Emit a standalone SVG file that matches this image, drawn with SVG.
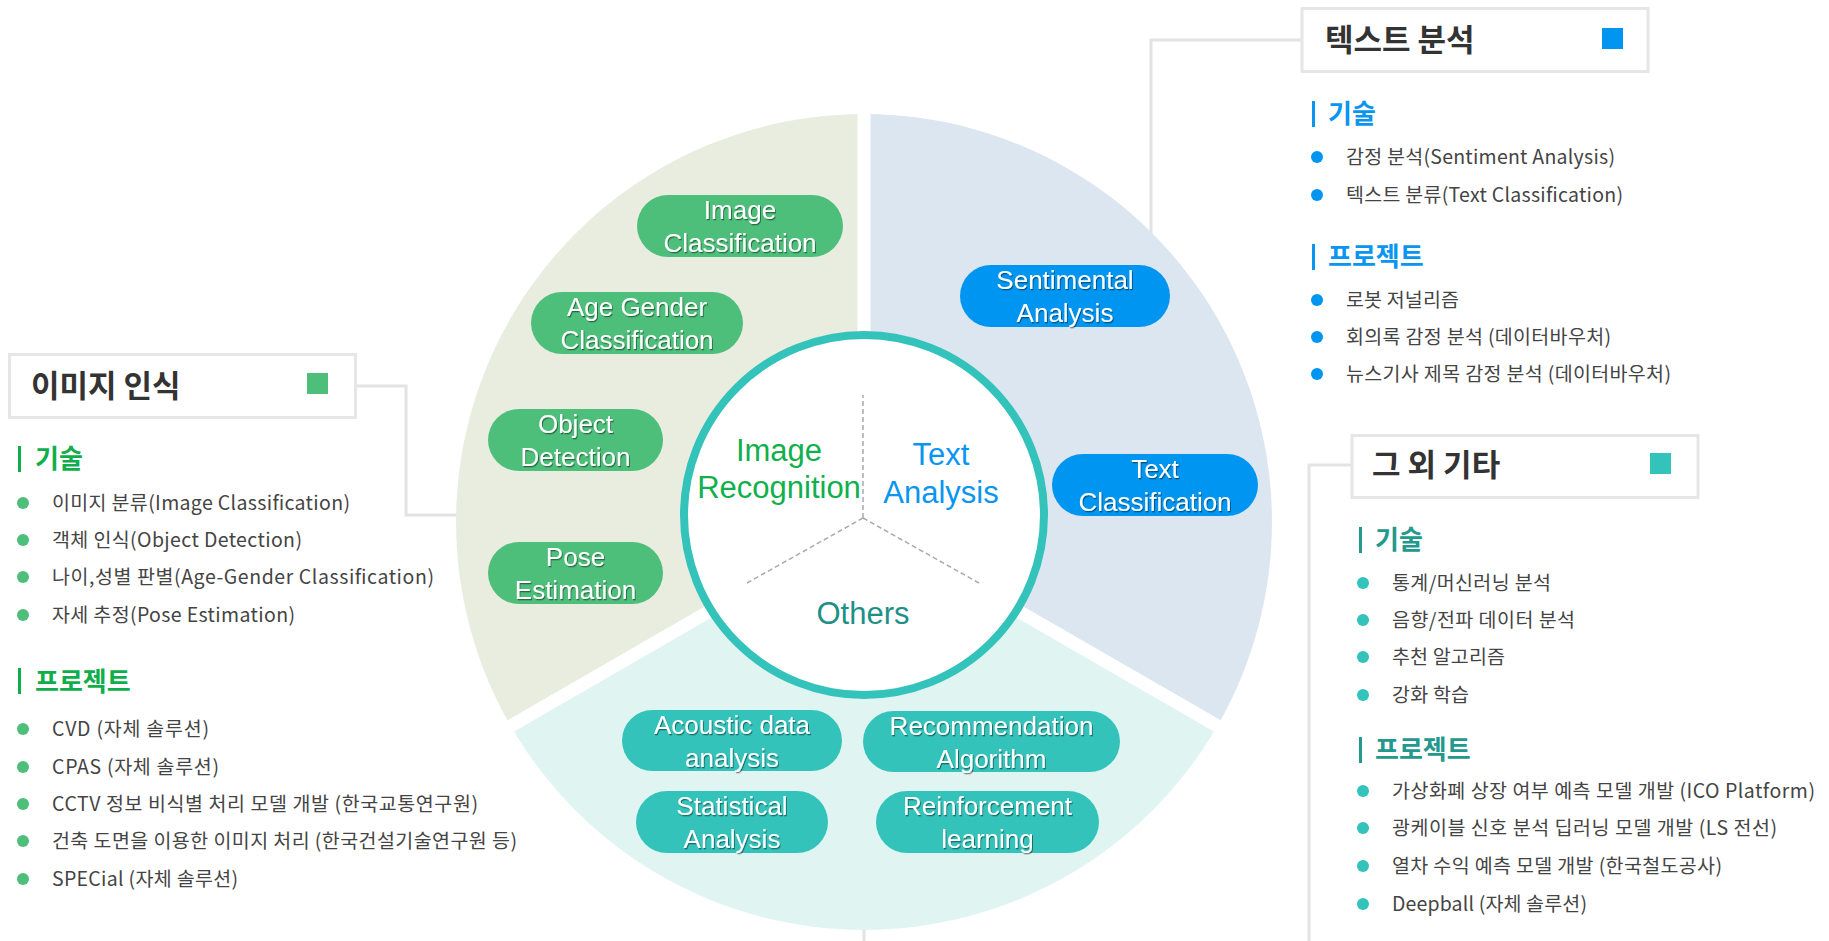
<svg xmlns="http://www.w3.org/2000/svg" width="1829" height="941" viewBox="0 0 1829 941">
<defs>
<filter id="ts" x="-10%" y="-30%" width="120%" height="160%"><feDropShadow dx="1" dy="1.3" stdDeviation="0.7" flood-color="#000" flood-opacity="0.45"/></filter>
<style>
.pill text{font-family:"Liberation Sans",Arial,sans-serif;font-size:26px;fill:#fff;text-anchor:middle;filter:url(#ts)}
.gp{fill:#4DBF7A}.bp{fill:#0095F0}.tp{fill:#33C3BA}
.box{fill:#fff;stroke:#E6E6E6;stroke-width:3}
.bt{font-family:"Noto Sans CJK KR","Noto Sans",sans-serif;font-weight:bold;font-size:31px;fill:#333}
.hd{font-family:"Noto Sans CJK KR","Noto Sans",sans-serif;font-weight:bold;font-size:26px}
.li{font-family:"Noto Sans CJK KR","Noto Sans",sans-serif;font-size:19.5px;fill:#444}
.ctr{font-family:"Liberation Sans",Arial,sans-serif;font-size:31px;text-anchor:middle}
.con{fill:none;stroke:#E3E3E3;stroke-width:3}
</style>
</defs>
<rect width="1829" height="941" fill="#fff"/>
<g id="connectors">
<polyline class="con" points="356,386 406,386 406,515 460,515"/>
<polyline class="con" points="1302,40 1151,40 1151,236"/>
<polyline class="con" points="1352,465 1309,465 1309,941"/>
<line class="con" x1="864" y1="920" x2="864" y2="941"/>
</g>
<g id="wheel">
<path d="M864 522 L510.7 726 A408 408 0 0 1 864 114 Z" fill="#E9EDDF"/>
<path d="M864 522 L864 114 A408 408 0 0 1 1217.3 726 Z" fill="#DCE6F0"/>
<path d="M864 522 L1217.3 726 A408 408 0 0 1 510.7 726 Z" fill="#E0F5F2"/>
<g stroke="#fff" stroke-width="13">
<line x1="864" y1="522" x2="864" y2="100"/>
<line x1="864" y1="522" x2="1228" y2="732"/>
<line x1="864" y1="522" x2="500" y2="732"/>
</g>
<circle cx="864" cy="515" r="180" fill="#fff" stroke="#33C3BA" stroke-width="8"/>
<g stroke="#AAAAAA" stroke-width="1.5" stroke-dasharray="5,3" fill="none">
<line x1="863" y1="518" x2="863" y2="395"/>
<line x1="863" y1="518" x2="747" y2="583"/>
<line x1="863" y1="518" x2="979" y2="583"/>
</g>
</g>
<g id="center-image">
<text class="ctr" x="779" y="461" fill="#10B04C">Image</text>
<text class="ctr" x="779" y="498" fill="#10B04C">Recognition</text>
</g>
<g id="center-text">
<text class="ctr" x="941" y="465" fill="#0A96F0">Text</text>
<text class="ctr" x="941" y="503" fill="#0A96F0">Analysis</text>
</g>
<g id="center-others">
<text class="ctr" x="863" y="624" fill="#1E9088">Others</text>
</g>
<g id="pill-image-classification" class="pill"><rect class="gp" x="637" y="195" width="206" height="62" rx="31"/><text x="740" y="219">Image</text><text x="740" y="252">Classification</text></g>
<g id="pill-age-gender" class="pill"><rect class="gp" x="531" y="292" width="212" height="62" rx="31"/><text x="637" y="316">Age Gender</text><text x="637" y="349">Classification</text></g>
<g id="pill-object-detection" class="pill"><rect class="gp" x="488" y="409" width="175" height="62" rx="31"/><text x="575.5" y="433">Object</text><text x="575.5" y="466">Detection</text></g>
<g id="pill-pose-estimation" class="pill"><rect class="gp" x="488" y="542" width="175" height="62" rx="31"/><text x="575.5" y="566">Pose</text><text x="575.5" y="599">Estimation</text></g>
<g id="pill-sentimental" class="pill"><rect class="bp" x="960" y="265" width="210" height="62" rx="31"/><text x="1065" y="289">Sentimental</text><text x="1065" y="322">Analysis</text></g>
<g id="pill-text-classification" class="pill"><rect class="bp" x="1052" y="454" width="206" height="62" rx="31"/><text x="1155" y="478">Text</text><text x="1155" y="511">Classification</text></g>
<g id="pill-acoustic" class="pill"><rect class="tp" x="622" y="710" width="220" height="61" rx="30.5"/><text x="732" y="734">Acoustic data</text><text x="732" y="767">analysis</text></g>
<g id="pill-recommendation" class="pill"><rect class="tp" x="863" y="711" width="257" height="61" rx="30.5"/><text x="991.5" y="735">Recommendation</text><text x="991.5" y="768">Algorithm</text></g>
<g id="pill-statistical" class="pill"><rect class="tp" x="636" y="791" width="192" height="62" rx="31"/><text x="732" y="815">Statistical</text><text x="732" y="848">Analysis</text></g>
<g id="pill-reinforcement" class="pill"><rect class="tp" x="876" y="791" width="223" height="62" rx="31"/><text x="987.5" y="815">Reinforcement</text><text x="987.5" y="848">learning</text></g>
<g id="panel-image">
<rect class="box" x="9.5" y="354.5" width="346" height="63"/>
<text class="bt" x="31" y="397">이미지 인식</text>
<rect x="307" y="373" width="21" height="21" fill="#4DBF7A"/>
<rect x="18" y="446" width="3" height="26" fill="#10AE4A"/>
<text class="hd" x="35" y="468" fill="#10AE4A">기술</text>
<g fill="#4DBF7A"><circle cx="23" cy="503" r="6"/><circle cx="23" cy="540" r="6"/><circle cx="23" cy="577" r="6"/><circle cx="23" cy="615" r="6"/></g>
<text class="li" x="52" y="510" textLength="298" lengthAdjust="spacing">이미지 분류(Image Classification)</text>
<text class="li" x="52" y="547" textLength="250" lengthAdjust="spacing">객체 인식(Object Detection)</text>
<text class="li" x="52" y="584" textLength="382" lengthAdjust="spacing">나이,성별 판별(Age-Gender Classification)</text>
<text class="li" x="52" y="622" textLength="243" lengthAdjust="spacing">자세 추정(Pose Estimation)</text>
<rect x="18" y="668" width="3" height="26" fill="#10AE4A"/>
<text class="hd" x="35" y="691" fill="#10AE4A">프로젝트</text>
<g fill="#4DBF7A"><circle cx="23" cy="729" r="6"/><circle cx="23" cy="767" r="6"/><circle cx="23" cy="804" r="6"/><circle cx="23" cy="841" r="6"/><circle cx="23" cy="879" r="6"/></g>
<text class="li" x="52" y="736" textLength="157" lengthAdjust="spacing">CVD (자체 솔루션)</text>
<text class="li" x="52" y="774" textLength="167" lengthAdjust="spacing">CPAS (자체 솔루션)</text>
<text class="li" x="52" y="811" textLength="426" lengthAdjust="spacing">CCTV 정보 비식별 처리 모델 개발 (한국교통연구원)</text>
<text class="li" x="52" y="848" textLength="465" lengthAdjust="spacing">건축 도면을 이용한 이미지 처리 (한국건설기술연구원 등)</text>
<text class="li" x="52" y="886" textLength="186" lengthAdjust="spacing">SPECial (자체 솔루션)</text>
</g>
<g id="panel-text">
<rect class="box" x="1302" y="8.5" width="346" height="63"/>
<text class="bt" x="1325" y="51">텍스트 분석</text>
<rect x="1602" y="28" width="21" height="21" fill="#0095F0"/>
<rect x="1312" y="101" width="3" height="26" fill="#0A96F0"/>
<text class="hd" x="1328" y="123" fill="#0A96F0">기술</text>
<g fill="#0095F0"><circle cx="1317" cy="157" r="6"/><circle cx="1317" cy="195" r="6"/><circle cx="1317" cy="300" r="6"/><circle cx="1317" cy="337" r="6"/><circle cx="1317" cy="374" r="6"/></g>
<text class="li" x="1346" y="164" textLength="269" lengthAdjust="spacing">감정 분석(Sentiment Analysis)</text>
<text class="li" x="1346" y="202" textLength="277" lengthAdjust="spacing">텍스트 분류(Text Classification)</text>
<rect x="1312" y="244" width="3" height="26" fill="#0A96F0"/>
<text class="hd" x="1328" y="266" fill="#0A96F0">프로젝트</text>
<text class="li" x="1346" y="307" textLength="113" lengthAdjust="spacing">로봇 저널리즘</text>
<text class="li" x="1346" y="344" textLength="265" lengthAdjust="spacing">회의록 감정 분석 (데이터바우처)</text>
<text class="li" x="1346" y="381" textLength="325" lengthAdjust="spacing">뉴스기사 제목 감정 분석 (데이터바우처)</text>
</g>
<g id="panel-others">
<rect class="box" x="1352" y="435.5" width="346" height="62"/>
<text class="bt" x="1372" y="476">그 외 기타</text>
<rect x="1650" y="453" width="21" height="21" fill="#33C3BA"/>
<rect x="1359" y="527" width="3" height="26" fill="#23998E"/>
<text class="hd" x="1375" y="549" fill="#23998E">기술</text>
<g fill="#33C3BA"><circle cx="1363" cy="583" r="6"/><circle cx="1363" cy="620" r="6"/><circle cx="1363" cy="657" r="6"/><circle cx="1363" cy="695" r="6"/><circle cx="1363" cy="791" r="6"/><circle cx="1363" cy="828" r="6"/><circle cx="1363" cy="866" r="6"/><circle cx="1363" cy="904" r="6"/></g>
<text class="li" x="1392" y="590" textLength="159" lengthAdjust="spacing">통계/머신러닝 분석</text>
<text class="li" x="1392" y="627" textLength="183" lengthAdjust="spacing">음향/전파 데이터 분석</text>
<text class="li" x="1392" y="664" textLength="113" lengthAdjust="spacing">추천 알고리즘</text>
<text class="li" x="1392" y="702" textLength="77" lengthAdjust="spacing">강화 학습</text>
<rect x="1359" y="737" width="3" height="26" fill="#23998E"/>
<text class="hd" x="1375" y="759" fill="#23998E">프로젝트</text>
<text class="li" x="1392" y="798" textLength="423" lengthAdjust="spacing">가상화폐 상장 여부 예측 모델 개발 (ICO Platform)</text>
<text class="li" x="1392" y="835" textLength="385" lengthAdjust="spacing">광케이블 신호 분석 딥러닝 모델 개발 (LS 전선)</text>
<text class="li" x="1392" y="873" textLength="330" lengthAdjust="spacing">열차 수익 예측 모델 개발 (한국철도공사)</text>
<text class="li" x="1392" y="911" textLength="195" lengthAdjust="spacing">Deepball (자체 솔루션)</text>
</g>
</svg>
